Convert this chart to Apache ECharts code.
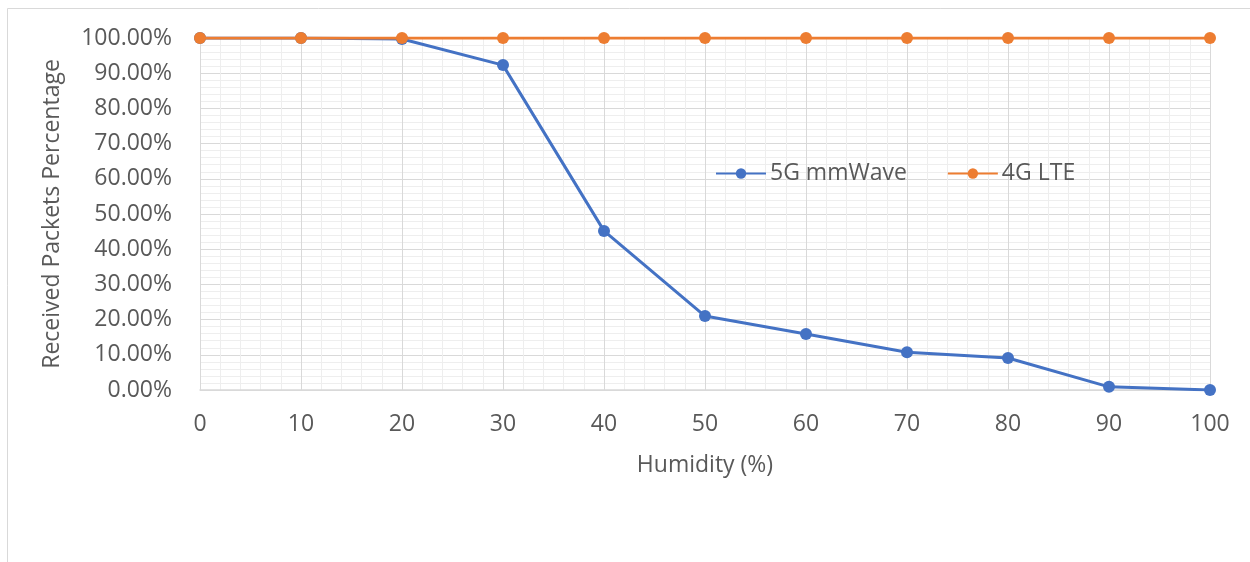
<!DOCTYPE html>
<html>
<head>
<meta charset="utf-8">
<script src="https://cdn.jsdelivr.net/npm/echarts@6/dist/echarts.min.js"></script>
<style>
  html, body { margin: 0; padding: 0; background: #fff; }
  #chart { width: 1250px; height: 562px; }
</style>
</head>
<body>
<div id="chart"></div>
<script>
// Humidity levels (%) on the x axis
const humidity = [0, 10, 20, 30, 40, 50, 60, 70, 80, 90, 100];
// Fraction of packets received at each humidity level
const mmWave5G = [1.0, 1.0, 0.997, 0.923, 0.452, 0.21, 0.159, 0.107, 0.091, 0.009, 0.0];
const lte4G    = [1.0, 1.0, 1.0, 1.0, 1.0, 1.0, 1.0, 1.0, 1.0, 1.0, 1.0];
const seriesNames = ['5G mmWave', '4G LTE'];

const FONT = 'Open Sans';
const TEXT = '#595959';

const chart = echarts.init(document.getElementById('chart'), null, { renderer: 'canvas' });

function pairs(xs, ys) { return xs.map((x, i) => [x, ys[i]]); }

chart.setOption({
  animation: false,
  backgroundColor: '#ffffff',
  graphic: [{
    type: 'rect',
    shape: { x: 7.5, y: 8.5, width: 1400, height: 700 },
    style: { fill: 'none', stroke: '#d9d9d9', lineWidth: 1 },
    silent: true, z: -1
  }],
  grid: { left: 200, right: 40, top: 38, bottom: 172, containLabel: false },
  legend: {
    data: seriesNames,
    left: 710, top: 157,
    itemWidth: 50, itemHeight: 13, itemGap: 40,
    textStyle: { fontFamily: FONT, fontSize: 23, color: TEXT, padding: [0, 0, 0, -1] }
  },
  xAxis: {
    type: 'value', min: 0, max: 100, interval: 10,
    name: 'Humidity (%)', nameLocation: 'middle', nameGap: 64,
    nameTextStyle: { fontFamily: FONT, fontSize: 23, color: TEXT },
    axisLine: { show: true, lineStyle: { color: '#d9d9d9', width: 1.5 } },
    axisTick: { show: false },
    axisLabel: { fontFamily: FONT, fontSize: 23, color: TEXT, margin: 23 },
    splitLine: { show: true, lineStyle: { color: '#d9d9d9', width: 1 } },
    minorTick: { show: false, splitNumber: 5 },
    minorSplitLine: { show: true, lineStyle: { color: '#eeeeee', width: 1 } }
  },
  yAxis: {
    type: 'value', min: 0, max: 1, interval: 0.1,
    name: 'Received Packets Percentage', nameLocation: 'middle', nameGap: 136,
    nameTextStyle: { fontFamily: FONT, fontSize: 23, color: TEXT },
    axisLine: { show: false },
    axisTick: { show: false },
    axisLabel: {
      fontFamily: FONT, fontSize: 23, color: TEXT, margin: 28,
      formatter: v => (v * 100).toFixed(2) + '%'
    },
    splitLine: { show: true, lineStyle: { color: '#d9d9d9', width: 1 } },
    minorTick: { show: false, splitNumber: 5 },
    minorSplitLine: { show: true, lineStyle: { color: '#eeeeee', width: 1 } }
  },
  series: [
    {
      name: seriesNames[0], type: 'line', data: pairs(humidity, mmWave5G),
      color: '#4472c4', symbol: 'circle', symbolSize: 12,
      lineStyle: { width: 3, color: '#4472c4' },
      itemStyle: { color: '#4472c4' }, z: 2
    },
    {
      name: seriesNames[1], type: 'line', data: pairs(humidity, lte4G),
      color: '#ed7d31', symbol: 'circle', symbolSize: 12,
      lineStyle: { width: 3, color: '#ed7d31' },
      itemStyle: { color: '#ed7d31' }, z: 3
    }
  ]
});
</script>
</body>
</html>
